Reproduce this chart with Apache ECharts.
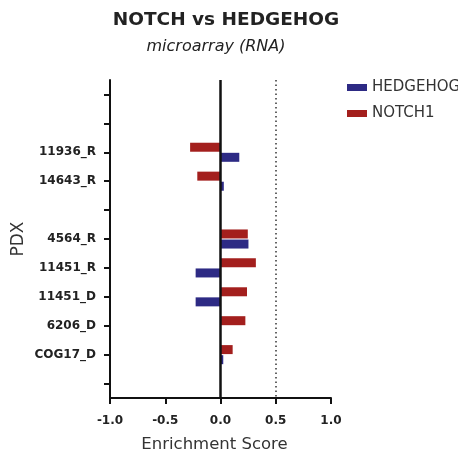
<!DOCTYPE html>
<html>
<head>
<meta charset="utf-8">
<script src="https://cdn.jsdelivr.net/npm/echarts@6/dist/echarts.min.js"></script>
<style>
  html, body { margin: 0; padding: 0; background: #fff; }
  #chart { width: 458px; height: 457px; }
</style>
</head>
<body>
<div id="chart"></div>
<script>
// PDX rows, top to bottom (blank rows keep their tick but no label)
const categories = ['', ' ', '11936_R', '14643_R', '  ', '4564_R', '11451_R', '11451_D', '6206_D', 'COG17_D', '   '];
const notch1 = [null, null, -0.275, -0.21, null, 0.247, 0.32, 0.24, 0.225, 0.11, null];
const hedgehog = [null, null, 0.17, 0.03, null, 0.253, -0.225, -0.225, 0, 0.025, null];
const xTicks = [-1.0, -0.5, 0.0, 0.5, 1.0];

const font = '"DejaVu Sans", sans-serif';
const chart = echarts.init(document.getElementById('chart'));

chart.setOption({
  animation: false,
  title: [
    { text: 'NOTCH vs HEDGEHOG', left: 221, top: 6, textAlign: 'center',
      textStyle: { fontFamily: font, fontSize: 18.5, fontWeight: 'bold', color: '#222' } },
    { text: 'microarray (RNA)', left: 211, top: 34, textAlign: 'center',
      textStyle: { fontFamily: font, fontSize: 16, fontStyle: 'italic', fontWeight: 'normal', color: '#222' } }
  ],
  legend: {
    left: 342, top: 75, orient: 'vertical', itemGap: 11,
    itemWidth: 20, itemHeight: 7, icon: 'rect',
    textStyle: { fontFamily: font, fontSize: 15, color: '#333' },
    data: ['HEDGEHOG', 'NOTCH1']
  },
  grid: { left: 110, right: 127, top: 80, bottom: 59, containLabel: false, outerBoundsMode: 'none' },
  xAxis: {
    type: 'value', min: -1, max: 1, interval: 0.5,
    name: 'Enrichment Score', nameLocation: 'middle', nameGap: 38,
    nameTextStyle: { fontFamily: font, fontSize: 16.5, color: '#333', padding: [0, 12, 0, 0] },
    axisLine: { show: true, lineStyle: { color: '#111', width: 2 } },
    axisTick: { show: true, length: 6, lineStyle: { color: '#111', width: 2 } },
    axisLabel: { fontFamily: font, fontSize: 12, fontWeight: 'bold', color: '#222', margin: 17,
      formatter: v => xTicks.includes(v) ? v.toFixed(1) : '' },
    splitLine: { show: false }
  },
  yAxis: {
    type: 'category', data: categories, inverse: true,
    name: 'PDX', nameLocation: 'middle', nameGap: 83, nameRotate: 90,
    nameTextStyle: { fontFamily: font, fontSize: 17, color: '#333' },
    axisLine: { show: true, onZero: false, lineStyle: { color: '#111', width: 2 } },
    axisTick: { show: true, alignWithLabel: true, length: 6, lineStyle: { color: '#111', width: 2 } },
    axisLabel: { fontFamily: font, fontSize: 12, fontWeight: 'bold', color: '#222', margin: 14,
      padding: [6, 0, 0, 0] }
  },
  series: [
    {
      name: 'NOTCH1', type: 'bar', data: notch1,
      barWidth: 9, barGap: '12%',
      itemStyle: { color: '#a31f1d' },
      markLine: {
        symbol: 'none', silent: true, label: { show: false },
        data: [
          { xAxis: 0, lineStyle: { color: '#111', width: 2.5, type: 'solid' } },
          { xAxis: 0.5, lineStyle: { color: '#333', width: 1.5, type: [1.5, 3] } }
        ]
      }
    },
    {
      name: 'HEDGEHOG', type: 'bar', data: hedgehog,
      barWidth: 9, barGap: '12%',
      itemStyle: { color: '#2d2a84' }
    }
  ]
});
</script>
</body>
</html>
